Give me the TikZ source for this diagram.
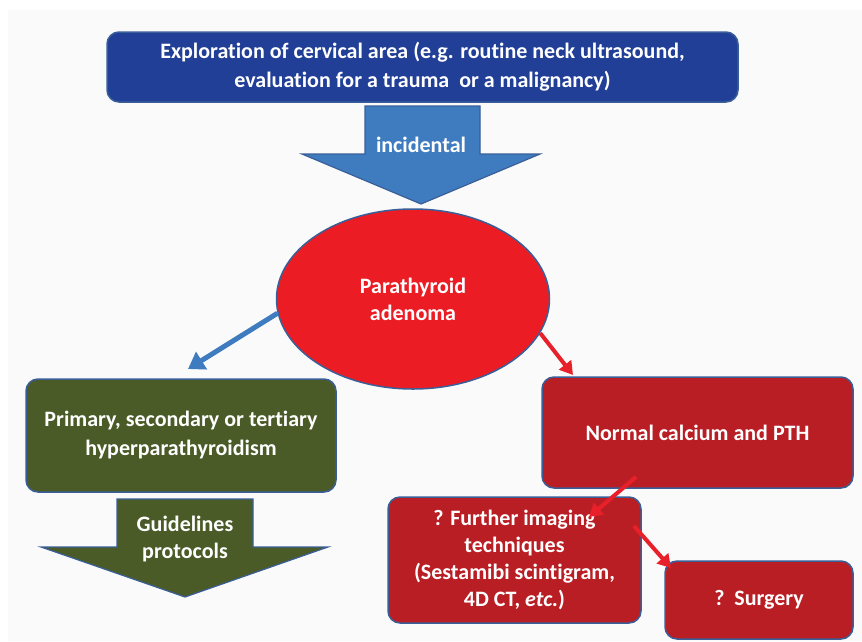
\documentclass[tikz,border=0pt]{standalone}
\usepackage{fontspec}
\setmainfont{Carlito}[RawFeature={-liga}]
\usetikzlibrary{arrows.meta,shapes.geometric}
\definecolor{bgcol}{HTML}{FAFAFA}
\definecolor{topblue}{HTML}{213F97}
\definecolor{arrblue}{HTML}{3F7CBF}
\definecolor{edgeblue}{HTML}{3A5F98}
\definecolor{olive}{HTML}{4A5B28}
\definecolor{darkred}{HTML}{B91E24}
\definecolor{brightred}{HTML}{EC1C24}
\definecolor{arrred}{HTML}{E8202A}
\begin{document}
\begin{tikzpicture}[x=1pt,y=-1pt,
  box/.style={draw=edgeblue, line width=1.5pt, rounded corners=12pt, text=white,
    font=\bfseries\fontsize{22}{29}\selectfont, align=center, inner sep=0pt},
  blockarrow/.style={draw=edgeblue, line width=1.2pt, line join=miter},
  lbl/.style={text=white, font=\bfseries\fontsize{22}{27}\selectfont, align=center, inner sep=0pt},
  bluelink/.style={draw=arrblue, line width=5pt, -{Triangle[length=16pt,width=20pt]}},
  redlink/.style={draw=arrred, line width=4pt, -{Triangle[length=13pt,width=15pt]}}]
\useasboundingbox (0,0) rectangle (862,641);
\fill[bgcol] (8,10) rectangle (862,641);

% top box
\node[box, fill=topblue, minimum width=631pt, minimum height=70pt] (top) at (422.5,67)
  {Exploration of cervical area (e.g. routine neck ultrasound,\\evaluation for a trauma\ \ or a malignancy)};

% blue block arrow
\draw[blockarrow, fill=arrblue] (365,106) -- (480,106) -- (480,154) -- (540,154) -- (421,204)
  -- (302,154) -- (365,154) -- cycle;
\node[lbl] (inc) at (421,145) {incidental};

% ellipse
\node[ellipse, draw=edgeblue, line width=1.5pt, fill=brightred, minimum width=273pt,
  minimum height=180pt, inner sep=0pt, text=white, align=center,
  font=\bfseries\fontsize{22}{27}\selectfont] (ad) at (413,299) {Parathyroid\\adenoma};

% green box
\node[box, fill=olive, minimum width=310pt, minimum height=113pt] (hyper) at (181,435.5)
  {Primary, secondary or tertiary\\hyperparathyroidism};

% green block arrow
\draw[blockarrow, fill=olive] (117,499) -- (253,499) -- (253,547) -- (328,547) -- (185,597)
  -- (41,547) -- (117,547) -- cycle;
\node[lbl] (guide) at (185,539) {Guidelines\\protocols};

% normal box
\node[box, fill=darkred, minimum width=311pt, minimum height=111pt] (normal) at (697.5,432.5)
  {Normal calcium and PTH};

% further imaging box
\node[box, fill=darkred, minimum width=253pt, minimum height=126pt,
  font=\bfseries\fontsize{22}{27}\selectfont] (further) at (514.5,560)
  {? Further imaging\\techniques\\(Sestamibi scintigram,\\4D CT, \textit{etc.})};

% surgery box
\node[box, fill=darkred, minimum width=188pt, minimum height=78pt] (surg) at (759,600)
  {?\ \ Surgery};

% connectors
\coordinate (btip) at (188,369);
\coordinate (rtip) at (573,375);
\coordinate (n1) at (636,477);
\coordinate (f1) at (589,517);
\coordinate (f2) at (634,526);
\coordinate (s1) at (671,568);
\draw[bluelink] (ad.186) -- (btip);
\draw[redlink] (ad.-15) -- (rtip);
\draw[redlink] (n1) -- (f1);
\draw[redlink] (f2) -- (s1);
\end{tikzpicture}
\end{document}
